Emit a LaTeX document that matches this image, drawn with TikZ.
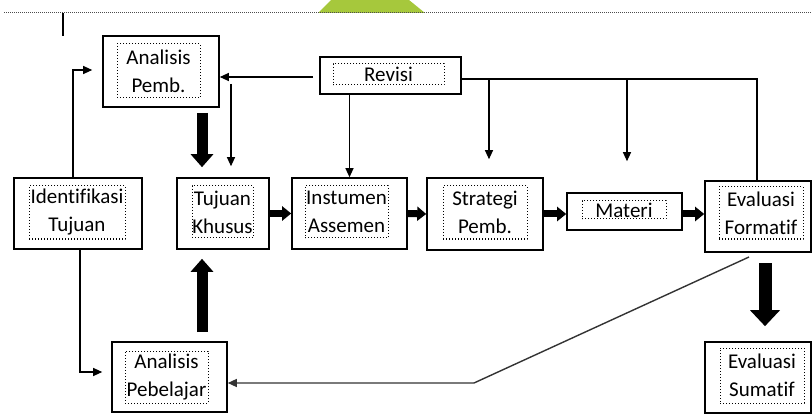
\documentclass[tikz,border=0pt]{standalone}
\usepackage{fontspec}
\setmainfont{Carlito}[Ligatures=NoCommon]
\usepackage{xcolor}
\usetikzlibrary{arrows.meta,calc,positioning}
\definecolor{logogreen}{RGB}{166,200,60}

\tikzset{
  box/.style={draw, line width=1.6pt, inner sep=0pt},
  inbox/.style={draw, dotted, line width=1pt, inner sep=0pt, align=center,
    font=\fontsize{21}{28}\selectfont},
  tarr/.style={line width=1.2pt, -{Triangle[length=9pt,width=8pt]}},
  line/.style={line width=1.2pt},
  fat/.style={line width=11pt, -{Triangle[length=13pt,width=22pt]}},
  hfat/.style={line width=7pt, -{Triangle[length=9pt,width=14pt]}},
  bigfat/.style={line width=13pt, -{Triangle[length=16pt,width=29pt]}}
}

\begin{document}
\begin{tikzpicture}[x=1pt,y=-1pt]
    \useasboundingbox (0,0) rectangle (812,417);

    % page header
    \fill[logogreen] (318,13) -- (331,0) -- (409,0) -- (425,13) -- cycle;
    \draw[gray!60!black, line width=1pt, dash pattern=on 1pt off 1pt] (4,13) -- (812,13);
    \draw[line width=2pt] (63,13) -- (63,36);

    % boxes
    \node[box, minimum width=116pt, minimum height=71pt] (ap) at (161,71.5) {};
    \node[inbox, minimum width=83pt, minimum height=54pt] (ap-t) at (158.5,71) {Analisis\\Pemb.};

    \node[box, minimum width=141pt, minimum height=37pt] (rev) at (390.5,75.5) {};
    \node[inbox, minimum width=111pt, minimum height=21pt] (rev-t) at (388.5,74.5) {Revisi};

    \node[box, minimum width=128pt, minimum height=71pt] (id) at (78,213.5) {};
    \node[inbox, minimum width=96pt, minimum height=53pt] (id-t) at (77,212.5) {Identifikasi\\Tujuan};

    \node[box, minimum width=92pt, minimum height=71pt] (tk) at (223,213.5) {};
    \node[inbox, minimum width=61pt, minimum height=52pt] (tk-t) at (222.5,212) {Tujuan\\Khusus};

    \node[box, minimum width=115pt, minimum height=71pt] (ia) at (349.5,213.5) {};
    \node[inbox, minimum width=83pt, minimum height=52pt] (ia-t) at (346.5,212) {Instumen\\Assemen};

    \node[box, minimum width=116pt, minimum height=72pt] (sp) at (485,214) {};
    \node[inbox, minimum width=84pt, minimum height=53pt] (sp-t) at (485,212.5) {Strategi\\Pemb.};

    \node[box, minimum width=115pt, minimum height=37pt] (mat) at (624.5,211.5) {};
    \node[inbox, minimum width=84pt, minimum height=18pt] (mat-t) at (624,210) {Materi};

    \node[box, minimum width=106pt, minimum height=71pt] (ef) at (758,216.5) {};
    \node[inbox, minimum width=84pt, minimum height=52pt] (ef-t) at (761,213) {Evaluasi\\Formatif};

    \node[box, minimum width=115pt, minimum height=70pt] (apb) at (169.5,377) {};
    \node[inbox, minimum width=83pt, minimum height=52pt] (apb-t) at (166.5,377) {Analisis\\Pebelajar};

    \node[box, minimum width=106pt, minimum height=71pt] (es) at (758,377.5) {};
    \node[inbox, minimum width=84pt, minimum height=55pt] (es-t) at (762,375.5) {Evaluasi\\Sumatif};

    % bends and free ends
    \coordinate (k1) at (73,70);
    \coordinate (k2) at (80,372);
    \coordinate (k3) at (313,77);
    \coordinate (k4) at (231,84);
    \coordinate (k5) at (757,79);
    \coordinate (k6) at (489,79);
    \coordinate (k7) at (627,79);
    \coordinate (k8) at (202,113);
    \coordinate (k9) at (765,263);
    \coordinate (k10) at (749,257);
    \coordinate (k11) at (474,383);

    % thin connectors
    \draw[tarr, shorten >=10pt] (k1 |- id.north) -- (k1) -- (ap.west |- k1);
    \draw[tarr, shorten >=9pt] (k2 |- id.south) -- (k2) -- (apb.west |- k2);
    \draw[tarr] (k3) -- (ap.east |- k3);
    \draw[tarr, shorten >=11pt] (k4) -- (k4 |- tk.north);
    \draw[tarr] (ia.north |- rev.south) -- (ia.north);
    \draw[line] (rev.east |- k5) -- (k5) -- (k5 |- ef.north);
    \draw[tarr, shorten >=18pt] (k6) -- (k6 |- sp.north);
    \draw[tarr, shorten >=31pt] (k7) -- (k7 |- mat.north);
    \draw[tarr, gray!40!black, line width=1.4pt] (k10) -- (k11) -- (apb.east |- k11);

    % main flow
    \draw[fat, shorten >=10pt] (k8) -- (k8 |- tk.north);
    \draw[fat, shorten <=9pt, shorten >=9pt] (k8 |- apb.north) -- (k8 |- tk.south);
    \draw[hfat] (tk.east) -- (ia.west);
    \draw[hfat] (ia.east) -- (sp.west);
    \draw[hfat] (sp.east) -- (mat.west |- sp.east);
    \draw[hfat] (mat.east |- sp.east) -- (ef.west |- sp.east);
    \draw[bigfat, shorten >=15pt] (k9) -- (k9 |- es.north);
\end{tikzpicture}
\end{document}
